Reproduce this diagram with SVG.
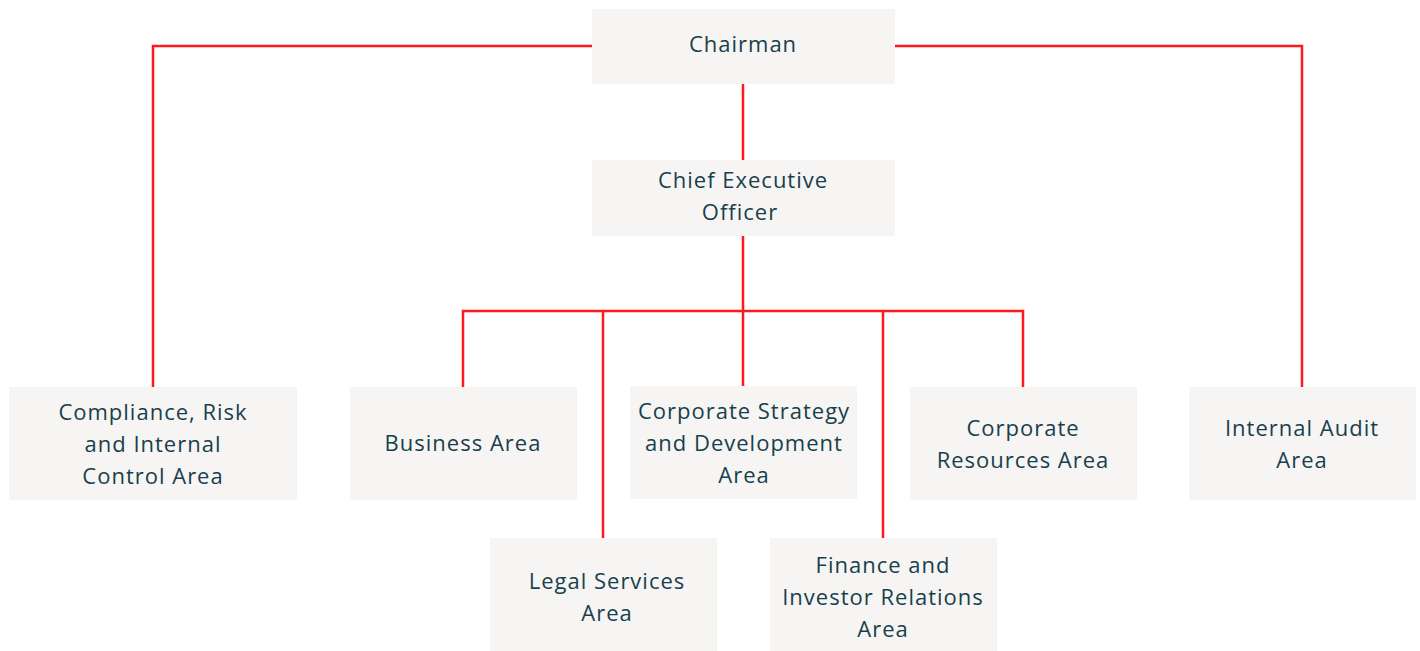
<svg xmlns="http://www.w3.org/2000/svg" width="1420" height="651" viewBox="0 0 1420 651">
<style>
.box{fill:#f6f5f3}
.t{font-family:"Open Sans","Liberation Sans",sans-serif;font-size:22px;fill:#183f4c;text-anchor:middle;letter-spacing:1px}
.c{stroke:#ff1a1f;stroke-width:2.5;fill:none}
</style>
<rect width="1420" height="651" fill="#ffffff"/>
<g id="connectors">
<path class="c" d="M592 46 H153 V387"/>
<path class="c" d="M895 46 H1302 V387"/>
<path class="c" d="M743 84 V160"/>
<path class="c" d="M743 236 V386"/>
<path class="c" d="M463 387 V311 H1023 V387"/>
<path class="c" d="M603 311 V538"/>
<path class="c" d="M883 311 V538"/>
</g>
<g id="chairman"><rect class="box" x="592" y="9" width="303" height="75"/><text class="t" x="743" y="52">Chairman</text></g>
<g id="ceo"><rect class="box" x="592" y="160" width="303" height="76"/><text class="t" x="743" y="188">Chief Executive</text><text class="t" x="740" y="220">Officer</text></g>
<g id="compliance"><rect class="box" x="9" y="387" width="288" height="113"/><text class="t" x="153" y="420">Compliance, Risk</text><text class="t" x="153" y="452">and Internal</text><text class="t" x="153" y="484">Control Area</text></g>
<g id="business"><rect class="box" x="350" y="387" width="227" height="113"/><text class="t" x="463" y="451">Business Area</text></g>
<g id="strategy"><rect class="box" x="630" y="386" width="227" height="113"/><text class="t" x="744" y="419">Corporate Strategy</text><text class="t" x="744" y="451">and Development</text><text class="t" x="744" y="483">Area</text></g>
<g id="resources"><rect class="box" x="910" y="387" width="227" height="113"/><text class="t" x="1023" y="436">Corporate</text><text class="t" x="1023" y="468">Resources Area</text></g>
<g id="audit"><rect class="box" x="1189" y="387" width="227" height="113"/><text class="t" x="1302" y="436">Internal Audit</text><text class="t" x="1302" y="468">Area</text></g>
<g id="legal"><rect class="box" x="490" y="538" width="227" height="113"/><text class="t" x="607" y="589">Legal Services</text><text class="t" x="607" y="621">Area</text></g>
<g id="finance"><rect class="box" x="770" y="538" width="227" height="113"/><text class="t" x="883" y="573">Finance and</text><text class="t" x="883" y="605">Investor Relations</text><text class="t" x="883" y="637">Area</text></g>
</svg>
